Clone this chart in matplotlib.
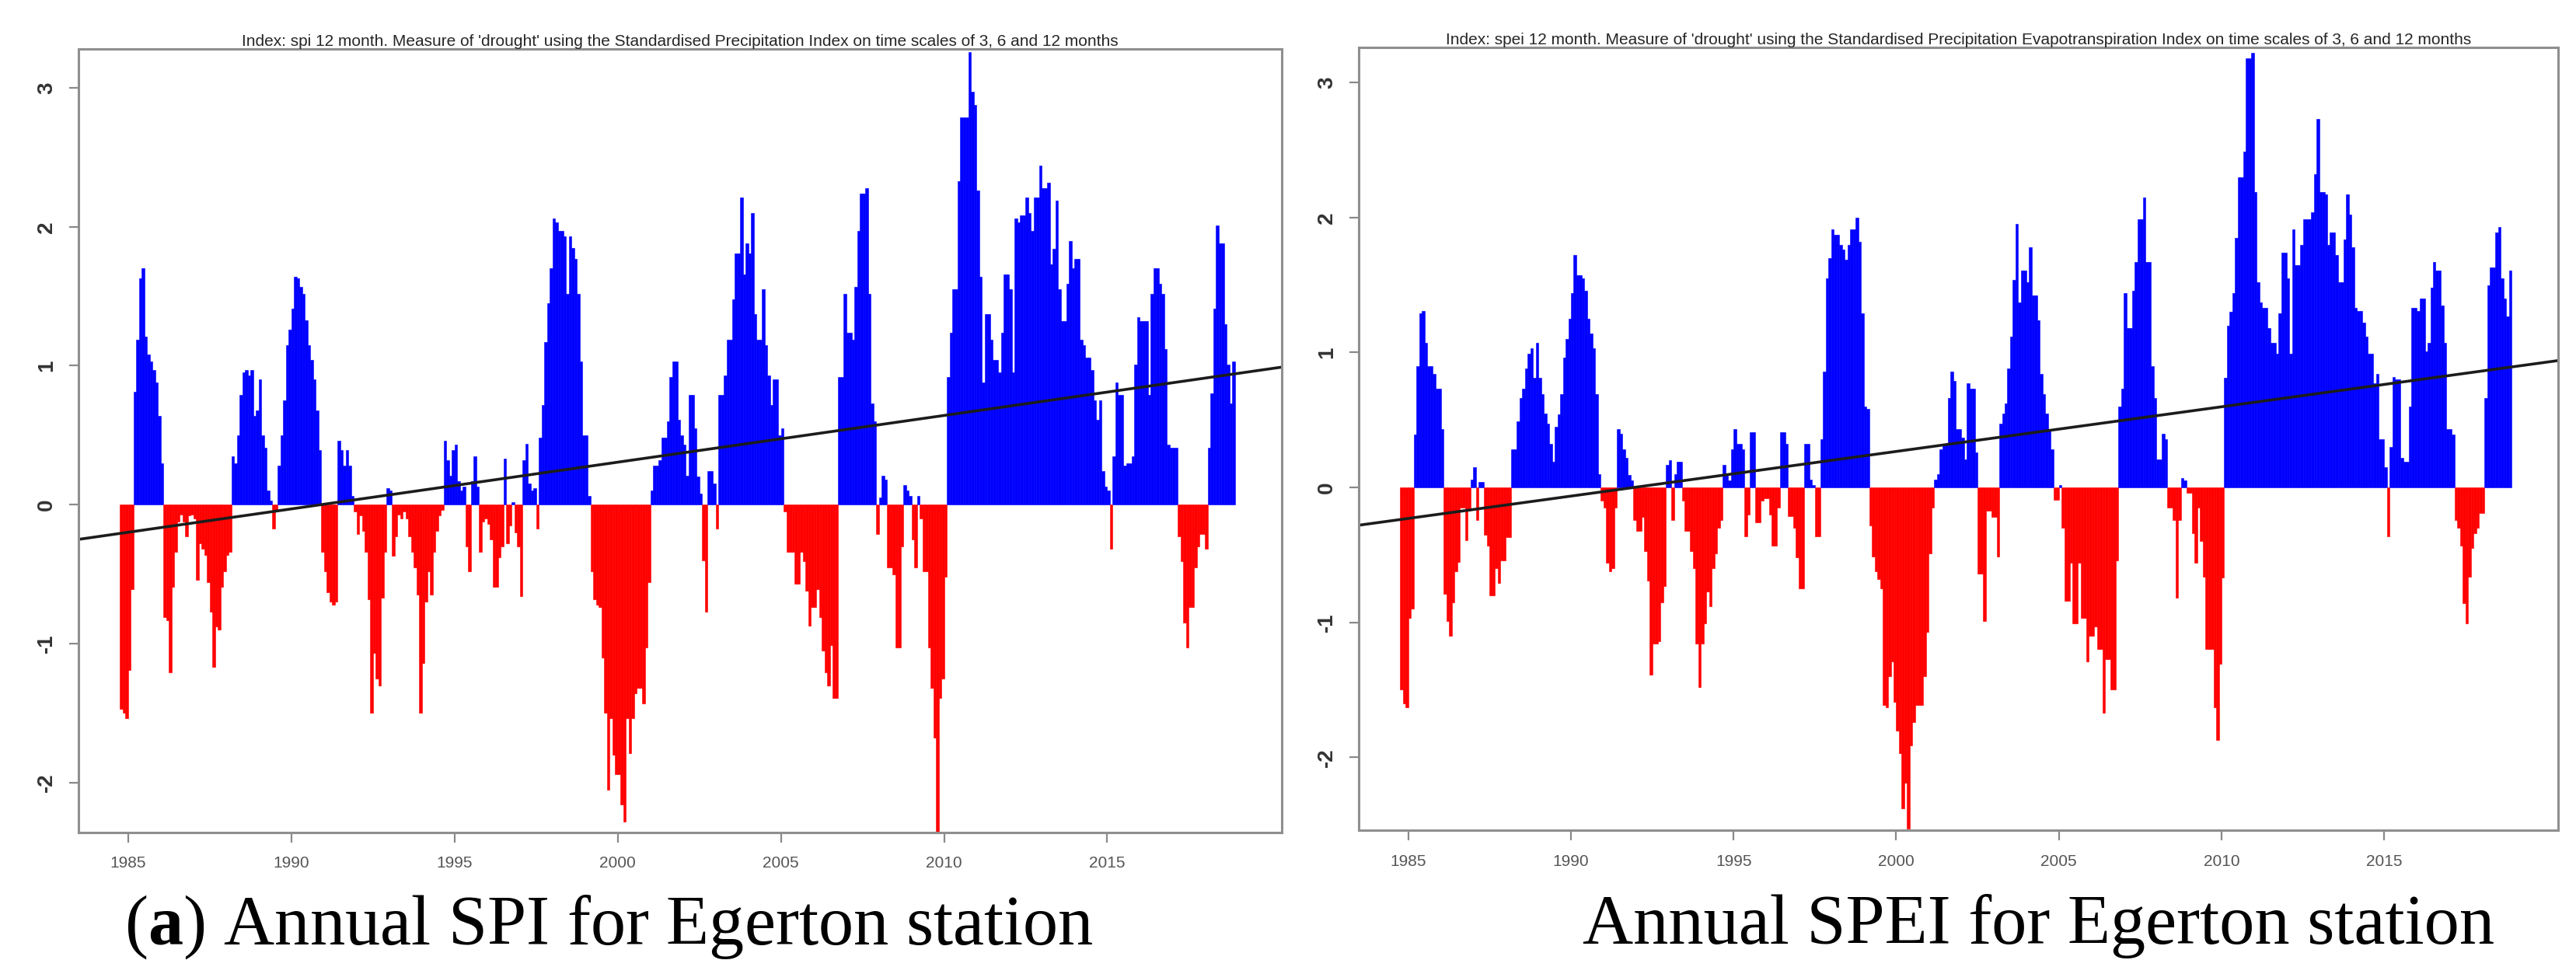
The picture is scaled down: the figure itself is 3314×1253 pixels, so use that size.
import numpy as np
import matplotlib
matplotlib.use("Agg")
import matplotlib.pyplot as plt

plt.rcParams['font.family'] = ['Liberation Sans', 'DejaVu Sans']
plt.rcParams['mathtext.fontset'] = 'custom'
plt.rcParams['mathtext.rm'] = 'Liberation Serif'
plt.rcParams['mathtext.bf'] = 'Liberation Serif:bold'

# monthly 12-month index values, first value is Oct 1984
START_YEAR = 1984.75

spi_12 = [
    -1.47, -1.50, -1.54, -1.19, -0.61,
    0.81, 1.19, 1.63, 1.70, 1.21, 1.08, 1.03, 0.97, 0.88, 0.64, 0.30,
    -0.81, -0.83, -1.21, -0.59, -0.34, -0.12, -0.07, -0.12, -0.23, -0.08, -0.07, -0.10,
    -0.54, -0.28, -0.32, -0.36, -0.56, -0.77, -1.17, -0.88, -0.90, -0.59, -0.48, -0.36, -0.34,
    0.35, 0.30, 0.50, 0.79, 0.95, 0.97, 0.93, 0.97, 0.64, 0.68, 0.90, 0.50, 0.41, 0.10, 0.03,
    -0.17, -0.05,
    0.28, 0.50, 0.75, 1.15, 1.26, 1.41, 1.64, 1.63, 1.57, 1.52, 1.33, 1.15, 1.04, 0.90, 0.68, 0.39,
    -0.34, -0.48, -0.63, -0.70, -0.72, -0.70,
    0.46, 0.39, 0.28, 0.39, 0.28, 0.06,
    -0.05, -0.21, -0.08, -0.19, -0.34, -0.68, -1.50, -1.07, -1.25, -1.30, -0.67, -0.34,
    0.12, 0.10,
    -0.37, -0.23, -0.07, -0.10, -0.05, -0.10, -0.23, -0.34, -0.45, -0.65, -1.50, -1.14,
    -0.70, -0.48, -0.65, -0.34, -0.19, -0.08, -0.04,
    0.46, 0.32, 0.21, 0.39, 0.43, 0.17, 0.10, 0.13,
    -0.30, -0.48,
    0.17, 0.35, 0.13,
    -0.34, -0.12, -0.10, -0.14, -0.25, -0.59, -0.59, -0.38, -0.30,
    0.33,
    -0.28, -0.15,
    0.02,
    -0.20, -0.30, -0.66,
    0.32, 0.44, 0.15, 0.10, 0.12,
    -0.17,
    0.48, 0.72, 1.17, 1.45, 1.70, 2.06, 2.03, 1.97, 1.97, 1.93, 1.52, 1.93, 1.85, 1.77,
    1.52, 1.03, 0.50, 0.50, 0.06,
    -0.48, -0.68, -0.72, -0.74, -1.10, -1.50, -2.05, -1.54, -1.80, -1.94, -1.94, -2.16,
    -2.28, -1.54, -1.79, -1.54, -1.36, -1.32, -1.32, -1.43, -1.03, -0.56,
    0.10, 0.28, 0.28, 0.32, 0.48, 0.48, 0.60, 0.92, 1.03, 1.03, 0.61, 0.50, 0.43, 0.21,
    0.79, 0.79, 0.55, 0.20, 0.08,
    -0.40, -0.77,
    0.24, 0.24, 0.15,
    -0.17,
    0.79, 0.79, 0.93, 1.19, 1.19, 1.48, 1.81, 1.81, 2.21, 1.66, 1.88, 1.81, 2.10, 1.37,
    1.19, 1.19, 1.55, 1.15, 0.93, 0.72, 0.90, 0.90, 0.50, 0.55,
    -0.05, -0.34, -0.34, -0.34, -0.57, -0.57, -0.34, -0.41, -0.62, -0.87, -0.74, -0.74,
    -0.61, -0.81, -1.05, -1.21, -1.30, -1.01, -1.39, -1.39,
    0.92, 0.92, 1.52, 1.24, 1.24, 1.19, 1.57, 1.97, 2.24, 2.24, 2.28, 1.52, 0.73, 0.60,
    -0.21, 0.05, 0.21, 0.18,
    -0.45, -0.45, -0.50, -1.03, -1.03, -0.30,
    0.14, 0.10, 0.06,
    -0.25, -0.45,
    0.06,
    -0.10, -0.48, -0.48, -1.03, -1.32, -1.68, -2.37, -1.39, -1.25, -0.52,
    0.92, 1.24, 1.55, 1.55, 2.33, 2.79, 2.79, 2.79, 3.26, 2.97, 2.88, 2.26, 1.64, 0.88,
    1.37, 1.37, 1.19, 1.04, 1.04, 0.95, 1.24, 1.66, 1.66, 1.55, 0.95, 2.06, 2.03, 2.08,
    2.08, 2.21, 2.10, 1.97, 2.21, 2.21, 2.44, 2.28, 2.28, 2.32, 1.73, 1.84, 2.19, 1.55,
    1.32, 1.32, 1.59, 1.90, 1.70, 1.77, 1.77, 1.19, 1.15, 1.06, 1.06, 0.97, 0.75, 0.61,
    0.75, 0.24, 0.13, 0.10,
    -0.32,
    0.35, 0.88, 0.79, 0.79, 0.28, 0.30, 0.30, 0.35, 1.01, 1.35, 1.32, 1.32, 1.32, 0.79,
    1.52, 1.70, 1.70, 1.59, 1.52, 1.12, 0.43, 0.41, 0.41, 0.41,
    -0.23, -0.41, -0.85, -1.03, -0.74, -0.74, -0.45, -0.30, -0.21, -0.21, -0.32,
    0.41, 0.80, 1.41, 2.01, 1.88, 1.88, 1.30, 1.01, 0.73, 1.03,
]

spei_12 = [
    -1.50, -1.60, -1.63, -0.97, -0.90,
    0.39, 0.90, 1.29, 1.31, 1.07, 0.90, 0.90, 0.84, 0.73, 0.73, 0.43,
    -0.79, -0.99, -1.10, -0.85, -0.62, -0.55, -0.15, -0.15, -0.39, -0.17,
    0.06, 0.15,
    -0.24,
    0.04, 0.04,
    -0.35, -0.43, -0.80, -0.80, -0.60, -0.71, -0.54, -0.54, -0.37, -0.37,
    0.28, 0.28, 0.49, 0.66, 0.73, 0.88, 0.99, 1.03, 0.81, 1.07, 0.81, 0.69, 0.55, 0.47,
    0.32, 0.19, 0.45, 0.54, 0.69, 0.96, 1.10, 1.25, 1.44, 1.72, 1.57, 1.57, 1.55, 1.46,
    1.25, 1.14, 1.03, 0.69, 0.10,
    -0.10, -0.15, -0.56, -0.62, -0.60, -0.15,
    0.43, 0.40, 0.28, 0.22, 0.09, 0.05,
    -0.24, -0.32, -0.32, -0.22, -0.47, -0.69, -1.39, -1.16, -1.16, -1.14, -0.85, -0.73,
    0.17, 0.20,
    -0.24,
    0.10, 0.19, 0.19,
    -0.10, -0.32, -0.32, -0.47, -0.60, -1.16, -1.48, -1.16, -1.01, -0.77, -0.88, -0.60,
    -0.49, -0.30, -0.24,
    0.17, 0.10, 0.05, 0.28, 0.43, 0.32, 0.32, 0.28,
    -0.36, -0.20,
    0.41, 0.41,
    -0.26, -0.26, -0.10, -0.08, -0.08, -0.20, -0.43, -0.43, -0.15,
    0.41, 0.41, 0.32,
    -0.21, -0.21, -0.30, -0.52, -0.75, -0.75,
    0.32, 0.32, 0.06, 0.02,
    -0.36, -0.36,
    0.36, 0.86, 1.55, 1.70, 1.91, 1.87, 1.87, 1.80, 1.76, 1.69, 1.80, 1.91, 1.91, 2.00,
    1.82, 1.29, 0.60, 0.58,
    -0.28, -0.51, -0.62, -0.68, -0.75, -1.61, -1.63, -1.40, -1.29, -1.59, -1.80, -1.97,
    -2.38, -2.19, -2.53, -1.91, -1.74, -1.61, -1.61, -1.61, -1.40, -1.07, -0.49, -0.15,
    0.06, 0.10, 0.28, 0.32, 0.32, 0.66, 0.86, 0.79, 0.43, 0.43, 0.37, 0.21, 0.77, 0.73,
    0.73, 0.26,
    -0.64, -0.64, -0.99, -0.17, -0.17, -0.22, -0.22, -0.51,
    0.47, 0.55, 0.62, 0.88, 1.12, 1.54, 1.95, 1.37, 1.61, 1.61, 1.52, 1.78, 1.42, 1.42,
    1.24, 0.84, 0.69, 0.55, 0.43, 0.28,
    -0.09, -0.09,
    0.02,
    -0.30, -0.84, -0.84, -0.56, -1.01, -1.01, -0.56, -0.97, -0.97, -1.29, -1.10, -1.10,
    -1.03, -1.20, -1.20, -1.67, -1.27, -1.27, -1.50, -1.50, -0.54,
    0.60, 0.73, 1.44, 1.18, 1.18, 1.46, 1.67, 1.99, 1.99, 2.15, 1.67, 1.67, 0.90, 0.66,
    0.21, 0.21, 0.40, 0.36,
    -0.15, -0.15, -0.24, -0.82, -0.24,
    0.07, 0.05,
    -0.04, -0.04, -0.34, -0.56, -0.15, -0.40, -0.66, -1.20, -1.20, -1.20, -1.63, -1.87,
    -1.31, -0.67,
    0.81, 1.20, 1.30, 1.44, 1.85, 2.30, 2.30, 2.49, 3.18, 3.18, 3.22, 2.19, 1.52, 1.37,
    1.33, 1.33, 1.18, 1.07, 1.07, 0.99, 1.29, 1.74, 1.74, 1.55, 0.99, 1.91, 1.65, 1.65,
    1.80, 1.99, 1.99, 1.99, 2.04, 2.32, 2.73, 2.19, 2.19, 2.17, 1.80, 1.89, 1.89, 1.72,
    1.52, 1.52, 1.84, 2.17, 2.02, 1.78, 1.33, 1.31, 1.31, 1.22, 1.12, 0.99, 0.99, 0.77,
    0.84, 0.36, 0.36, 0.15,
    -0.36,
    0.30, 0.82, 0.80, 0.80, 0.22, 0.19, 0.19, 0.60, 1.33, 1.33, 1.31, 1.40, 1.40, 1.01,
    1.07, 1.48, 1.67, 1.61, 1.61, 1.35, 1.07, 0.43, 0.43, 0.39,
    -0.24, -0.30, -0.43, -0.86, -1.01, -0.66, -0.45, -0.34, -0.30, -0.19, -0.19,
    0.66, 1.50, 1.63, 1.63, 1.89, 1.93, 1.55, 1.40, 1.27, 1.61,
]

# linear trend, read at the two ends of the x range
trend_years = [1983.48, 2020.35]
spi_trend = [-0.25, 0.99]
spei_trend = [-0.28, 0.94]

year_ticks = [1985, 1990, 1995, 2000, 2005, 2010, 2015]
index_ticks = [-2, -1, 0, 1, 2, 3]

spi_title = ("Index: spi 12 month. Measure of 'drought' using the Standardised "
             "Precipitation Index on time scales of 3, 6 and 12 months")
spei_title = ("Index: spei 12 month. Measure of 'drought' using the Standardised "
              "Precipitation Evapotranspiration Index on time scales of 3, 6 and 12 months")
spi_caption = r"($\mathbf{a}$) Annual SPI for Egerton station"
spei_caption = "Annual SPEI for Egerton station"


def draw_panel(ax, values, trend, title, ylim):
    values = np.array(values)
    months = START_YEAR + np.arange(len(values)) / 12.0
    colors = np.where(values > 0, '#0000ff', '#ff0000')
    ax.bar(months, values, width=1 / 12.0, align='edge', color=colors,
           edgecolor=colors, linewidth=0.4)
    ax.plot(trend_years, trend, color='#1c1c1c', lw=2.6, solid_capstyle='butt')
    ax.set_xlim(trend_years)
    ax.set_ylim(ylim)
    ax.set_xticks(year_ticks)
    ax.set_yticks(index_ticks)
    ax.set_yticklabels([str(t) for t in index_ticks], rotation=90, va='center',
                       fontweight='bold')
    ax.tick_params(axis='x', length=9, width=1.6, color='#8a8a8a', pad=13,
                   labelsize=15, labelcolor='#555555')
    ax.tick_params(axis='y', length=9, width=1.6, color='#8a8a8a', pad=11,
                   labelsize=20, labelcolor='#333333')
    for s in ax.spines.values():
        s.set_color('#8f8f8f')
        s.set_linewidth(2.2)
    ax.set_title(title, fontsize=15, color='#262626', pad=2)


fig = plt.figure(figsize=(33.14, 12.53), dpi=100)
ax1 = fig.add_axes([0.0305, 0.1453, 0.4671, 0.8044])
ax2 = fig.add_axes([0.5275, 0.1476, 0.4656, 0.8037])

draw_panel(ax1, spi_12, spi_trend, spi_title, (-2.36, 3.28))
draw_panel(ax2, spei_12, spei_trend, spei_title, (-2.54, 3.26))

fig.text(0.0483, 0.031, spi_caption, fontsize=65, family='Liberation Serif',
         ha='left', va='baseline')
fig.text(0.6144, 0.031, spei_caption, fontsize=65, family='Liberation Serif',
         ha='left', va='baseline')

fig.savefig('out.png', dpi=100)
